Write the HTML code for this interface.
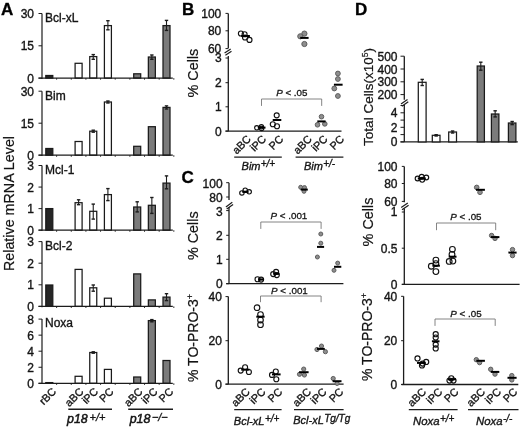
<!DOCTYPE html>
<html><head><meta charset="utf-8"><style>
html,body{margin:0;padding:0;background:#fff;width:520px;height:430px;overflow:hidden}
svg{display:block;font-family:"Liberation Sans",sans-serif;will-change:transform}
text{stroke:#141414;stroke-width:0.35px;paint-order:stroke}
</style></head><body>
<svg width="520" height="430" viewBox="0 0 520 430">
<rect width="520" height="430" fill="#fff"/>
<text x="1.00" y="15.40" font-size="17" font-weight="bold" fill="#000">A</text>
<text x="182.00" y="15.40" font-size="17" font-weight="bold" fill="#000">B</text>
<text x="181.50" y="183.40" font-size="17" font-weight="bold" fill="#000">C</text>
<text x="355.00" y="15.40" font-size="17" font-weight="bold" fill="#000">D</text>
<rect x="45.80" y="75.50" width="7.00" height="2.60" fill="#262626" stroke="#1a1a1a" stroke-width="1.25"/>
<rect x="75.10" y="63.30" width="7.00" height="14.80" fill="#ffffff" stroke="#1a1a1a" stroke-width="1.25"/>
<rect x="89.75" y="56.60" width="7.00" height="21.50" fill="#ffffff" stroke="#1a1a1a" stroke-width="1.25"/>
<line x1="93.25" y1="54.60" x2="93.25" y2="59.30" stroke="#1c1c1c" stroke-width="1.1"/>
<line x1="91.55" y1="54.60" x2="94.95" y2="54.60" stroke="#1c1c1c" stroke-width="1.4"/>
<line x1="91.55" y1="59.30" x2="94.95" y2="59.30" stroke="#1c1c1c" stroke-width="1.4"/>
<rect x="104.40" y="25.60" width="7.00" height="52.50" fill="#ffffff" stroke="#1a1a1a" stroke-width="1.25"/>
<line x1="107.90" y1="20.70" x2="107.90" y2="29.80" stroke="#1c1c1c" stroke-width="1.1"/>
<line x1="106.20" y1="20.70" x2="109.60" y2="20.70" stroke="#1c1c1c" stroke-width="1.4"/>
<line x1="106.20" y1="29.80" x2="109.60" y2="29.80" stroke="#1c1c1c" stroke-width="1.4"/>
<rect x="133.70" y="73.80" width="7.00" height="4.30" fill="#7b7b7b" stroke="#1a1a1a" stroke-width="1.25"/>
<rect x="148.35" y="57.00" width="7.00" height="21.10" fill="#7b7b7b" stroke="#1a1a1a" stroke-width="1.25"/>
<line x1="151.85" y1="55.00" x2="151.85" y2="59.30" stroke="#1c1c1c" stroke-width="1.1"/>
<line x1="150.15" y1="55.00" x2="153.55" y2="55.00" stroke="#1c1c1c" stroke-width="1.4"/>
<line x1="150.15" y1="59.30" x2="153.55" y2="59.30" stroke="#1c1c1c" stroke-width="1.4"/>
<rect x="163.00" y="25.60" width="7.00" height="52.50" fill="#7b7b7b" stroke="#1a1a1a" stroke-width="1.25"/>
<line x1="166.50" y1="20.40" x2="166.50" y2="30.40" stroke="#1c1c1c" stroke-width="1.1"/>
<line x1="164.80" y1="20.40" x2="168.20" y2="20.40" stroke="#1c1c1c" stroke-width="1.4"/>
<line x1="164.80" y1="30.40" x2="168.20" y2="30.40" stroke="#1c1c1c" stroke-width="1.4"/>
<line x1="42.00" y1="13.50" x2="42.00" y2="78.90" stroke="#1c1c1c" stroke-width="1.2"/>
<line x1="38.50" y1="78.10" x2="42.00" y2="78.10" stroke="#1c1c1c" stroke-width="1.0"/>
<text x="34.00" y="82.70" font-size="12" text-anchor="end" fill="#141414">0</text>
<line x1="38.50" y1="45.80" x2="42.00" y2="45.80" stroke="#1c1c1c" stroke-width="1.0"/>
<text x="34.00" y="50.40" font-size="12" text-anchor="end" fill="#141414">15</text>
<line x1="38.50" y1="13.50" x2="42.00" y2="13.50" stroke="#1c1c1c" stroke-width="1.0"/>
<text x="34.00" y="18.10" font-size="12" text-anchor="end" fill="#141414">30</text>
<line x1="38.50" y1="78.10" x2="172.80" y2="78.10" stroke="#1c1c1c" stroke-width="1.2"/>
<line x1="56.62" y1="78.10" x2="56.62" y2="79.70" stroke="#1c1c1c" stroke-width="0.9"/>
<line x1="71.28" y1="78.10" x2="71.28" y2="79.70" stroke="#1c1c1c" stroke-width="0.9"/>
<line x1="85.92" y1="78.10" x2="85.92" y2="79.70" stroke="#1c1c1c" stroke-width="0.9"/>
<line x1="100.57" y1="78.10" x2="100.57" y2="79.70" stroke="#1c1c1c" stroke-width="0.9"/>
<line x1="115.22" y1="78.10" x2="115.22" y2="79.70" stroke="#1c1c1c" stroke-width="0.9"/>
<line x1="129.88" y1="78.10" x2="129.88" y2="79.70" stroke="#1c1c1c" stroke-width="0.9"/>
<line x1="144.53" y1="78.10" x2="144.53" y2="79.70" stroke="#1c1c1c" stroke-width="0.9"/>
<line x1="159.18" y1="78.10" x2="159.18" y2="79.70" stroke="#1c1c1c" stroke-width="0.9"/>
<line x1="173.82" y1="78.10" x2="173.82" y2="79.70" stroke="#1c1c1c" stroke-width="0.9"/>
<text x="45.00" y="21.80" font-size="12" fill="#141414">Bcl-xL</text>
<rect x="45.80" y="148.50" width="7.00" height="6.70" fill="#262626" stroke="#1a1a1a" stroke-width="1.25"/>
<rect x="75.10" y="141.50" width="7.00" height="13.70" fill="#ffffff" stroke="#1a1a1a" stroke-width="1.25"/>
<rect x="89.75" y="131.20" width="7.00" height="24.00" fill="#ffffff" stroke="#1a1a1a" stroke-width="1.25"/>
<line x1="93.25" y1="130.20" x2="93.25" y2="132.20" stroke="#1c1c1c" stroke-width="1.1"/>
<line x1="91.55" y1="130.20" x2="94.95" y2="130.20" stroke="#1c1c1c" stroke-width="1.4"/>
<line x1="91.55" y1="132.20" x2="94.95" y2="132.20" stroke="#1c1c1c" stroke-width="1.4"/>
<rect x="104.40" y="102.00" width="7.00" height="53.20" fill="#ffffff" stroke="#1a1a1a" stroke-width="1.25"/>
<line x1="107.90" y1="101.00" x2="107.90" y2="103.00" stroke="#1c1c1c" stroke-width="1.1"/>
<line x1="106.20" y1="101.00" x2="109.60" y2="101.00" stroke="#1c1c1c" stroke-width="1.4"/>
<line x1="106.20" y1="103.00" x2="109.60" y2="103.00" stroke="#1c1c1c" stroke-width="1.4"/>
<rect x="133.70" y="146.30" width="7.00" height="8.90" fill="#7b7b7b" stroke="#1a1a1a" stroke-width="1.25"/>
<rect x="148.35" y="126.70" width="7.00" height="28.50" fill="#7b7b7b" stroke="#1a1a1a" stroke-width="1.25"/>
<rect x="163.00" y="107.40" width="7.00" height="47.80" fill="#7b7b7b" stroke="#1a1a1a" stroke-width="1.25"/>
<line x1="166.50" y1="105.90" x2="166.50" y2="109.00" stroke="#1c1c1c" stroke-width="1.1"/>
<line x1="164.80" y1="105.90" x2="168.20" y2="105.90" stroke="#1c1c1c" stroke-width="1.4"/>
<line x1="164.80" y1="109.00" x2="168.20" y2="109.00" stroke="#1c1c1c" stroke-width="1.4"/>
<line x1="42.00" y1="91.20" x2="42.00" y2="156.00" stroke="#1c1c1c" stroke-width="1.2"/>
<line x1="38.50" y1="155.20" x2="42.00" y2="155.20" stroke="#1c1c1c" stroke-width="1.0"/>
<text x="34.00" y="159.80" font-size="12" text-anchor="end" fill="#141414">0</text>
<line x1="38.50" y1="123.20" x2="42.00" y2="123.20" stroke="#1c1c1c" stroke-width="1.0"/>
<text x="34.00" y="127.80" font-size="12" text-anchor="end" fill="#141414">15</text>
<line x1="38.50" y1="91.20" x2="42.00" y2="91.20" stroke="#1c1c1c" stroke-width="1.0"/>
<text x="34.00" y="95.80" font-size="12" text-anchor="end" fill="#141414">30</text>
<line x1="38.50" y1="155.20" x2="172.80" y2="155.20" stroke="#1c1c1c" stroke-width="1.2"/>
<line x1="56.62" y1="155.20" x2="56.62" y2="156.80" stroke="#1c1c1c" stroke-width="0.9"/>
<line x1="71.28" y1="155.20" x2="71.28" y2="156.80" stroke="#1c1c1c" stroke-width="0.9"/>
<line x1="85.92" y1="155.20" x2="85.92" y2="156.80" stroke="#1c1c1c" stroke-width="0.9"/>
<line x1="100.57" y1="155.20" x2="100.57" y2="156.80" stroke="#1c1c1c" stroke-width="0.9"/>
<line x1="115.22" y1="155.20" x2="115.22" y2="156.80" stroke="#1c1c1c" stroke-width="0.9"/>
<line x1="129.88" y1="155.20" x2="129.88" y2="156.80" stroke="#1c1c1c" stroke-width="0.9"/>
<line x1="144.53" y1="155.20" x2="144.53" y2="156.80" stroke="#1c1c1c" stroke-width="0.9"/>
<line x1="159.18" y1="155.20" x2="159.18" y2="156.80" stroke="#1c1c1c" stroke-width="0.9"/>
<line x1="173.82" y1="155.20" x2="173.82" y2="156.80" stroke="#1c1c1c" stroke-width="0.9"/>
<text x="45.00" y="99.50" font-size="12" fill="#141414">Bim</text>
<rect x="45.80" y="208.60" width="7.00" height="21.60" fill="#262626" stroke="#1a1a1a" stroke-width="1.25"/>
<rect x="75.10" y="202.70" width="7.00" height="27.50" fill="#ffffff" stroke="#1a1a1a" stroke-width="1.25"/>
<line x1="78.60" y1="199.80" x2="78.60" y2="204.70" stroke="#1c1c1c" stroke-width="1.1"/>
<line x1="76.90" y1="199.80" x2="80.30" y2="199.80" stroke="#1c1c1c" stroke-width="1.4"/>
<line x1="76.90" y1="204.70" x2="80.30" y2="204.70" stroke="#1c1c1c" stroke-width="1.4"/>
<rect x="89.75" y="211.30" width="7.00" height="18.90" fill="#ffffff" stroke="#1a1a1a" stroke-width="1.25"/>
<line x1="93.25" y1="204.10" x2="93.25" y2="219.10" stroke="#1c1c1c" stroke-width="1.1"/>
<line x1="91.55" y1="204.10" x2="94.95" y2="204.10" stroke="#1c1c1c" stroke-width="1.4"/>
<line x1="91.55" y1="219.10" x2="94.95" y2="219.10" stroke="#1c1c1c" stroke-width="1.4"/>
<rect x="104.40" y="194.60" width="7.00" height="35.60" fill="#ffffff" stroke="#1a1a1a" stroke-width="1.25"/>
<line x1="107.90" y1="188.60" x2="107.90" y2="200.60" stroke="#1c1c1c" stroke-width="1.1"/>
<line x1="106.20" y1="188.60" x2="109.60" y2="188.60" stroke="#1c1c1c" stroke-width="1.4"/>
<line x1="106.20" y1="200.60" x2="109.60" y2="200.60" stroke="#1c1c1c" stroke-width="1.4"/>
<rect x="133.70" y="207.00" width="7.00" height="23.20" fill="#7b7b7b" stroke="#1a1a1a" stroke-width="1.25"/>
<line x1="137.20" y1="201.80" x2="137.20" y2="211.90" stroke="#1c1c1c" stroke-width="1.1"/>
<line x1="135.50" y1="201.80" x2="138.90" y2="201.80" stroke="#1c1c1c" stroke-width="1.4"/>
<line x1="135.50" y1="211.90" x2="138.90" y2="211.90" stroke="#1c1c1c" stroke-width="1.4"/>
<rect x="148.35" y="205.30" width="7.00" height="24.90" fill="#7b7b7b" stroke="#1a1a1a" stroke-width="1.25"/>
<line x1="151.85" y1="197.50" x2="151.85" y2="213.40" stroke="#1c1c1c" stroke-width="1.1"/>
<line x1="150.15" y1="197.50" x2="153.55" y2="197.50" stroke="#1c1c1c" stroke-width="1.4"/>
<line x1="150.15" y1="213.40" x2="153.55" y2="213.40" stroke="#1c1c1c" stroke-width="1.4"/>
<rect x="163.00" y="183.10" width="7.00" height="47.10" fill="#7b7b7b" stroke="#1a1a1a" stroke-width="1.25"/>
<line x1="166.50" y1="175.90" x2="166.50" y2="188.80" stroke="#1c1c1c" stroke-width="1.1"/>
<line x1="164.80" y1="175.90" x2="168.20" y2="175.90" stroke="#1c1c1c" stroke-width="1.4"/>
<line x1="164.80" y1="188.80" x2="168.20" y2="188.80" stroke="#1c1c1c" stroke-width="1.4"/>
<line x1="42.00" y1="165.50" x2="42.00" y2="231.00" stroke="#1c1c1c" stroke-width="1.2"/>
<line x1="38.50" y1="230.20" x2="42.00" y2="230.20" stroke="#1c1c1c" stroke-width="1.0"/>
<text x="34.00" y="234.80" font-size="12" text-anchor="end" fill="#141414">0</text>
<line x1="38.50" y1="208.63" x2="42.00" y2="208.63" stroke="#1c1c1c" stroke-width="1.0"/>
<text x="34.00" y="213.23" font-size="12" text-anchor="end" fill="#141414">1</text>
<line x1="38.50" y1="187.07" x2="42.00" y2="187.07" stroke="#1c1c1c" stroke-width="1.0"/>
<text x="34.00" y="191.67" font-size="12" text-anchor="end" fill="#141414">2</text>
<line x1="38.50" y1="165.50" x2="42.00" y2="165.50" stroke="#1c1c1c" stroke-width="1.0"/>
<text x="34.00" y="170.10" font-size="12" text-anchor="end" fill="#141414">3</text>
<line x1="38.50" y1="230.20" x2="172.80" y2="230.20" stroke="#1c1c1c" stroke-width="1.2"/>
<line x1="56.62" y1="230.20" x2="56.62" y2="231.80" stroke="#1c1c1c" stroke-width="0.9"/>
<line x1="71.28" y1="230.20" x2="71.28" y2="231.80" stroke="#1c1c1c" stroke-width="0.9"/>
<line x1="85.92" y1="230.20" x2="85.92" y2="231.80" stroke="#1c1c1c" stroke-width="0.9"/>
<line x1="100.57" y1="230.20" x2="100.57" y2="231.80" stroke="#1c1c1c" stroke-width="0.9"/>
<line x1="115.22" y1="230.20" x2="115.22" y2="231.80" stroke="#1c1c1c" stroke-width="0.9"/>
<line x1="129.88" y1="230.20" x2="129.88" y2="231.80" stroke="#1c1c1c" stroke-width="0.9"/>
<line x1="144.53" y1="230.20" x2="144.53" y2="231.80" stroke="#1c1c1c" stroke-width="0.9"/>
<line x1="159.18" y1="230.20" x2="159.18" y2="231.80" stroke="#1c1c1c" stroke-width="0.9"/>
<line x1="173.82" y1="230.20" x2="173.82" y2="231.80" stroke="#1c1c1c" stroke-width="0.9"/>
<text x="45.00" y="173.80" font-size="12" fill="#141414">Mcl-1</text>
<rect x="45.80" y="285.00" width="7.00" height="21.40" fill="#262626" stroke="#1a1a1a" stroke-width="1.25"/>
<rect x="75.10" y="269.40" width="7.00" height="37.00" fill="#ffffff" stroke="#1a1a1a" stroke-width="1.25"/>
<rect x="89.75" y="287.80" width="7.00" height="18.60" fill="#ffffff" stroke="#1a1a1a" stroke-width="1.25"/>
<line x1="93.25" y1="285.00" x2="93.25" y2="291.20" stroke="#1c1c1c" stroke-width="1.1"/>
<line x1="91.55" y1="285.00" x2="94.95" y2="285.00" stroke="#1c1c1c" stroke-width="1.4"/>
<line x1="91.55" y1="291.20" x2="94.95" y2="291.20" stroke="#1c1c1c" stroke-width="1.4"/>
<rect x="104.40" y="298.20" width="7.00" height="8.20" fill="#ffffff" stroke="#1a1a1a" stroke-width="1.25"/>
<rect x="133.70" y="273.90" width="7.00" height="32.50" fill="#7b7b7b" stroke="#1a1a1a" stroke-width="1.25"/>
<rect x="148.35" y="299.90" width="7.00" height="6.50" fill="#7b7b7b" stroke="#1a1a1a" stroke-width="1.25"/>
<rect x="163.00" y="297.10" width="7.00" height="9.30" fill="#7b7b7b" stroke="#1a1a1a" stroke-width="1.25"/>
<line x1="166.50" y1="293.70" x2="166.50" y2="300.60" stroke="#1c1c1c" stroke-width="1.1"/>
<line x1="164.80" y1="293.70" x2="168.20" y2="293.70" stroke="#1c1c1c" stroke-width="1.4"/>
<line x1="164.80" y1="300.60" x2="168.20" y2="300.60" stroke="#1c1c1c" stroke-width="1.4"/>
<line x1="42.00" y1="241.60" x2="42.00" y2="307.20" stroke="#1c1c1c" stroke-width="1.2"/>
<line x1="38.50" y1="306.40" x2="42.00" y2="306.40" stroke="#1c1c1c" stroke-width="1.0"/>
<text x="34.00" y="311.00" font-size="12" text-anchor="end" fill="#141414">0</text>
<line x1="38.50" y1="284.80" x2="42.00" y2="284.80" stroke="#1c1c1c" stroke-width="1.0"/>
<text x="34.00" y="289.40" font-size="12" text-anchor="end" fill="#141414">1</text>
<line x1="38.50" y1="263.20" x2="42.00" y2="263.20" stroke="#1c1c1c" stroke-width="1.0"/>
<text x="34.00" y="267.80" font-size="12" text-anchor="end" fill="#141414">2</text>
<line x1="38.50" y1="241.60" x2="42.00" y2="241.60" stroke="#1c1c1c" stroke-width="1.0"/>
<text x="34.00" y="246.20" font-size="12" text-anchor="end" fill="#141414">3</text>
<line x1="38.50" y1="306.40" x2="172.80" y2="306.40" stroke="#1c1c1c" stroke-width="1.2"/>
<line x1="56.62" y1="306.40" x2="56.62" y2="308.00" stroke="#1c1c1c" stroke-width="0.9"/>
<line x1="71.28" y1="306.40" x2="71.28" y2="308.00" stroke="#1c1c1c" stroke-width="0.9"/>
<line x1="85.92" y1="306.40" x2="85.92" y2="308.00" stroke="#1c1c1c" stroke-width="0.9"/>
<line x1="100.57" y1="306.40" x2="100.57" y2="308.00" stroke="#1c1c1c" stroke-width="0.9"/>
<line x1="115.22" y1="306.40" x2="115.22" y2="308.00" stroke="#1c1c1c" stroke-width="0.9"/>
<line x1="129.88" y1="306.40" x2="129.88" y2="308.00" stroke="#1c1c1c" stroke-width="0.9"/>
<line x1="144.53" y1="306.40" x2="144.53" y2="308.00" stroke="#1c1c1c" stroke-width="0.9"/>
<line x1="159.18" y1="306.40" x2="159.18" y2="308.00" stroke="#1c1c1c" stroke-width="0.9"/>
<line x1="173.82" y1="306.40" x2="173.82" y2="308.00" stroke="#1c1c1c" stroke-width="0.9"/>
<text x="45.00" y="249.90" font-size="12" fill="#141414">Bcl-2</text>
<rect x="45.80" y="382.60" width="7.00" height="0.70" fill="#262626" stroke="#1a1a1a" stroke-width="1.25"/>
<rect x="75.10" y="376.30" width="7.00" height="7.00" fill="#ffffff" stroke="#1a1a1a" stroke-width="1.25"/>
<rect x="89.75" y="352.50" width="7.00" height="30.80" fill="#ffffff" stroke="#1a1a1a" stroke-width="1.25"/>
<line x1="93.25" y1="351.80" x2="93.25" y2="353.20" stroke="#1c1c1c" stroke-width="1.1"/>
<line x1="91.55" y1="351.80" x2="94.95" y2="351.80" stroke="#1c1c1c" stroke-width="1.4"/>
<line x1="91.55" y1="353.20" x2="94.95" y2="353.20" stroke="#1c1c1c" stroke-width="1.4"/>
<rect x="104.40" y="369.40" width="7.00" height="13.90" fill="#ffffff" stroke="#1a1a1a" stroke-width="1.25"/>
<rect x="133.70" y="377.00" width="7.00" height="6.30" fill="#7b7b7b" stroke="#1a1a1a" stroke-width="1.25"/>
<rect x="148.35" y="320.60" width="7.00" height="62.70" fill="#7b7b7b" stroke="#1a1a1a" stroke-width="1.25"/>
<line x1="151.85" y1="319.60" x2="151.85" y2="321.80" stroke="#1c1c1c" stroke-width="1.1"/>
<line x1="150.15" y1="319.60" x2="153.55" y2="319.60" stroke="#1c1c1c" stroke-width="1.4"/>
<line x1="150.15" y1="321.80" x2="153.55" y2="321.80" stroke="#1c1c1c" stroke-width="1.4"/>
<rect x="163.00" y="360.50" width="7.00" height="22.80" fill="#7b7b7b" stroke="#1a1a1a" stroke-width="1.25"/>
<line x1="42.00" y1="319.10" x2="42.00" y2="384.10" stroke="#1c1c1c" stroke-width="1.2"/>
<line x1="38.50" y1="383.30" x2="42.00" y2="383.30" stroke="#1c1c1c" stroke-width="1.0"/>
<text x="34.00" y="387.90" font-size="12" text-anchor="end" fill="#141414">0</text>
<line x1="38.50" y1="367.25" x2="42.00" y2="367.25" stroke="#1c1c1c" stroke-width="1.0"/>
<text x="34.00" y="371.85" font-size="12" text-anchor="end" fill="#141414">2</text>
<line x1="38.50" y1="351.20" x2="42.00" y2="351.20" stroke="#1c1c1c" stroke-width="1.0"/>
<text x="34.00" y="355.80" font-size="12" text-anchor="end" fill="#141414">4</text>
<line x1="38.50" y1="335.15" x2="42.00" y2="335.15" stroke="#1c1c1c" stroke-width="1.0"/>
<text x="34.00" y="339.75" font-size="12" text-anchor="end" fill="#141414">6</text>
<line x1="38.50" y1="319.10" x2="42.00" y2="319.10" stroke="#1c1c1c" stroke-width="1.0"/>
<text x="34.00" y="323.70" font-size="12" text-anchor="end" fill="#141414">8</text>
<line x1="38.50" y1="383.30" x2="172.80" y2="383.30" stroke="#1c1c1c" stroke-width="1.2"/>
<line x1="56.62" y1="383.30" x2="56.62" y2="384.90" stroke="#1c1c1c" stroke-width="0.9"/>
<line x1="71.28" y1="383.30" x2="71.28" y2="384.90" stroke="#1c1c1c" stroke-width="0.9"/>
<line x1="85.92" y1="383.30" x2="85.92" y2="384.90" stroke="#1c1c1c" stroke-width="0.9"/>
<line x1="100.57" y1="383.30" x2="100.57" y2="384.90" stroke="#1c1c1c" stroke-width="0.9"/>
<line x1="115.22" y1="383.30" x2="115.22" y2="384.90" stroke="#1c1c1c" stroke-width="0.9"/>
<line x1="129.88" y1="383.30" x2="129.88" y2="384.90" stroke="#1c1c1c" stroke-width="0.9"/>
<line x1="144.53" y1="383.30" x2="144.53" y2="384.90" stroke="#1c1c1c" stroke-width="0.9"/>
<line x1="159.18" y1="383.30" x2="159.18" y2="384.90" stroke="#1c1c1c" stroke-width="0.9"/>
<line x1="173.82" y1="383.30" x2="173.82" y2="384.90" stroke="#1c1c1c" stroke-width="0.9"/>
<text x="45.00" y="327.40" font-size="12" fill="#141414">Noxa</text>
<text x="13.60" y="203.50" font-size="14.3" text-anchor="middle" transform="rotate(-90 13.60 203.50)" fill="#141414" style="stroke-width:0.2px">Relative mRNA Level</text>
<text x="56.80" y="392.30" font-size="10.8" text-anchor="end" transform="rotate(-45 56.80 392.30)" fill="#141414">rBC</text>
<text x="84.20" y="392.30" font-size="10.8" text-anchor="end" transform="rotate(-45 84.20 392.30)" fill="#141414">aBC</text>
<text x="98.70" y="392.30" font-size="10.8" text-anchor="end" transform="rotate(-45 98.70 392.30)" fill="#141414">iPC</text>
<text x="114.30" y="392.30" font-size="10.8" text-anchor="end" transform="rotate(-45 114.30 392.30)" fill="#141414">PC</text>
<text x="143.30" y="392.30" font-size="10.8" text-anchor="end" transform="rotate(-45 143.30 392.30)" fill="#141414">aBC</text>
<text x="158.30" y="392.30" font-size="10.8" text-anchor="end" transform="rotate(-45 158.30 392.30)" fill="#141414">iPC</text>
<text x="173.90" y="392.30" font-size="10.8" text-anchor="end" transform="rotate(-45 173.90 392.30)" fill="#141414">PC</text>
<line x1="68.30" y1="409.20" x2="112.00" y2="409.20" stroke="#1c1c1c" stroke-width="1.4"/>
<line x1="128.20" y1="409.20" x2="173.00" y2="409.20" stroke="#1c1c1c" stroke-width="1.4"/>
<text x="67.00" y="422.80" font-size="12.4" font-style="italic" style="stroke-width:0.5px" fill="#141414">p18<tspan font-size="11" font-weight="normal" style="stroke-width:0.35px" dx="1.8" dy="-1.7">+/+</tspan></text>
<text x="129.70" y="422.80" font-size="12.4" font-style="italic" style="stroke-width:0.5px" fill="#141414">p18<tspan font-size="11" font-weight="normal" style="stroke-width:0.35px" dx="1.5" dy="-1.7">−/−</tspan></text>
<line x1="228.30" y1="13.40" x2="228.30" y2="48.20" stroke="#1c1c1c" stroke-width="1.3"/>
<line x1="225.50" y1="13.40" x2="228.30" y2="13.40" stroke="#1c1c1c" stroke-width="1.0"/>
<text x="221.30" y="17.70" font-size="12" text-anchor="end" fill="#141414">100</text>
<line x1="225.50" y1="30.80" x2="228.30" y2="30.80" stroke="#1c1c1c" stroke-width="1.0"/>
<text x="221.30" y="35.10" font-size="12" text-anchor="end" fill="#141414">80</text>
<line x1="225.50" y1="48.60" x2="228.30" y2="48.60" stroke="#1c1c1c" stroke-width="1.0"/>
<text x="221.30" y="53.20" font-size="12" text-anchor="end" fill="#141414">60</text>
<line x1="224.60" y1="53.00" x2="230.70" y2="49.10" stroke="#1c1c1c" stroke-width="1.2"/>
<line x1="225.40" y1="55.20" x2="231.50" y2="51.30" stroke="#1c1c1c" stroke-width="1.2"/>
<line x1="228.30" y1="56.00" x2="228.30" y2="131.20" stroke="#1c1c1c" stroke-width="1.3"/>
<line x1="225.50" y1="58.00" x2="228.30" y2="58.00" stroke="#1c1c1c" stroke-width="1.0"/>
<text x="221.80" y="62.40" font-size="12" text-anchor="end" fill="#141414">3</text>
<line x1="225.50" y1="82.70" x2="228.30" y2="82.70" stroke="#1c1c1c" stroke-width="1.0"/>
<text x="221.80" y="87.20" font-size="12" text-anchor="end" fill="#141414">2</text>
<line x1="225.50" y1="106.80" x2="228.30" y2="106.80" stroke="#1c1c1c" stroke-width="1.0"/>
<text x="221.80" y="111.30" font-size="12" text-anchor="end" fill="#141414">1</text>
<line x1="225.50" y1="131.10" x2="228.30" y2="131.10" stroke="#1c1c1c" stroke-width="1.0"/>
<text x="221.80" y="135.70" font-size="12" text-anchor="end" fill="#141414">0</text>
<line x1="225.50" y1="131.20" x2="341.50" y2="131.20" stroke="#1c1c1c" stroke-width="1.3"/>
<circle cx="240.90" cy="33.50" r="2.5" fill="none" stroke="#111" stroke-width="1.15"/>
<circle cx="244.60" cy="34.20" r="2.5" fill="none" stroke="#111" stroke-width="1.15"/>
<circle cx="245.00" cy="37.50" r="2.5" fill="none" stroke="#111" stroke-width="1.15"/>
<circle cx="249.50" cy="39.90" r="2.5" fill="none" stroke="#111" stroke-width="1.15"/>
<line x1="241.20" y1="36.00" x2="249.90" y2="36.00" stroke="#000" stroke-width="2.0"/>
<circle cx="304.40" cy="33.60" r="2.6" fill="#8e8e8e" stroke="#5e5e5e" stroke-width="1.0"/>
<circle cx="300.30" cy="36.30" r="2.6" fill="#8e8e8e" stroke="#5e5e5e" stroke-width="1.0"/>
<circle cx="304.40" cy="44.00" r="2.6" fill="#8e8e8e" stroke="#5e5e5e" stroke-width="1.0"/>
<line x1="300.20" y1="37.90" x2="308.60" y2="37.90" stroke="#000" stroke-width="2.0"/>
<circle cx="256.80" cy="127.80" r="2.2" fill="none" stroke="#111" stroke-width="1.15"/>
<circle cx="261.40" cy="126.80" r="2.2" fill="none" stroke="#111" stroke-width="1.15"/>
<circle cx="261.60" cy="128.40" r="2.2" fill="none" stroke="#111" stroke-width="1.15"/>
<line x1="257.80" y1="127.60" x2="265.50" y2="127.60" stroke="#000" stroke-width="2.0"/>
<circle cx="276.70" cy="115.30" r="2.5" fill="none" stroke="#111" stroke-width="1.15"/>
<circle cx="272.80" cy="124.20" r="2.5" fill="none" stroke="#111" stroke-width="1.15"/>
<circle cx="277.00" cy="126.20" r="2.5" fill="none" stroke="#111" stroke-width="1.15"/>
<line x1="272.70" y1="120.00" x2="281.30" y2="120.00" stroke="#000" stroke-width="2.0"/>
<circle cx="321.50" cy="116.70" r="2.3" fill="#8e8e8e" stroke="#5e5e5e" stroke-width="1.0"/>
<circle cx="317.50" cy="124.80" r="2.3" fill="#8e8e8e" stroke="#5e5e5e" stroke-width="1.0"/>
<circle cx="324.80" cy="123.90" r="2.3" fill="#8e8e8e" stroke="#5e5e5e" stroke-width="1.0"/>
<line x1="317.30" y1="121.40" x2="325.60" y2="121.40" stroke="#000" stroke-width="2.0"/>
<circle cx="337.90" cy="73.50" r="2.4" fill="#8e8e8e" stroke="#5e5e5e" stroke-width="1.0"/>
<circle cx="337.90" cy="79.00" r="2.4" fill="#8e8e8e" stroke="#5e5e5e" stroke-width="1.0"/>
<circle cx="334.30" cy="88.50" r="2.4" fill="#8e8e8e" stroke="#5e5e5e" stroke-width="1.0"/>
<circle cx="337.90" cy="96.00" r="2.4" fill="#8e8e8e" stroke="#5e5e5e" stroke-width="1.0"/>
<line x1="333.90" y1="84.70" x2="342.60" y2="84.70" stroke="#000" stroke-width="2.0"/>
<line x1="261.50" y1="99.00" x2="321.70" y2="99.00" stroke="#777" stroke-width="0.9"/>
<line x1="261.50" y1="99.00" x2="261.50" y2="105.90" stroke="#777" stroke-width="0.9"/>
<line x1="321.70" y1="99.00" x2="321.70" y2="105.90" stroke="#777" stroke-width="0.9"/>
<text x="291.80" y="95.80" font-size="9.8" text-anchor="middle" fill="#141414" style="stroke-width:0.3px"><tspan font-style="italic">P</tspan> &lt; .05</text>
<text x="198.30" y="73.10" font-size="14.4" text-anchor="middle" transform="rotate(-90 198.30 73.10)" fill="#141414" style="stroke-width:0.2px">% Cells</text>
<text x="251.60" y="139.80" font-size="10.8" text-anchor="end" transform="rotate(-45 251.60 139.80)" fill="#141414">aBC</text>
<text x="266.80" y="139.80" font-size="10.8" text-anchor="end" transform="rotate(-45 266.80 139.80)" fill="#141414">iPC</text>
<text x="283.90" y="139.80" font-size="10.8" text-anchor="end" transform="rotate(-45 283.90 139.80)" fill="#141414">PC</text>
<text x="312.60" y="139.80" font-size="10.8" text-anchor="end" transform="rotate(-45 312.60 139.80)" fill="#141414">aBC</text>
<text x="328.30" y="139.80" font-size="10.8" text-anchor="end" transform="rotate(-45 328.30 139.80)" fill="#141414">iPC</text>
<text x="344.80" y="139.80" font-size="10.8" text-anchor="end" transform="rotate(-45 344.80 139.80)" fill="#141414">PC</text>
<line x1="234.20" y1="157.10" x2="281.80" y2="157.10" stroke="#1c1c1c" stroke-width="1.4"/>
<line x1="295.60" y1="157.10" x2="343.40" y2="157.10" stroke="#1c1c1c" stroke-width="1.4"/>
<text x="241.60" y="169.80" font-size="11" font-style="italic" fill="#141414">Bim<tspan font-size="10" font-weight="normal" dx="0.2" dy="-2.4">+/+</tspan></text>
<text x="304.00" y="169.80" font-size="11" font-style="italic" fill="#141414">Bim<tspan font-size="10" font-weight="normal" dx="0.2" dy="-2.4">+/-</tspan></text>
<line x1="229.00" y1="182.70" x2="229.00" y2="200.00" stroke="#1c1c1c" stroke-width="1.3"/>
<line x1="226.20" y1="182.70" x2="229.00" y2="182.70" stroke="#1c1c1c" stroke-width="1.0"/>
<text x="222.60" y="187.80" font-size="12" text-anchor="end" fill="#141414">100</text>
<line x1="226.20" y1="197.00" x2="229.00" y2="197.00" stroke="#1c1c1c" stroke-width="1.0"/>
<text x="222.60" y="201.90" font-size="12" text-anchor="end" fill="#141414">80</text>
<line x1="225.90" y1="206.90" x2="232.30" y2="202.20" stroke="#1c1c1c" stroke-width="1.2"/>
<line x1="226.70" y1="209.10" x2="233.10" y2="204.40" stroke="#1c1c1c" stroke-width="1.2"/>
<line x1="229.00" y1="207.00" x2="229.00" y2="283.70" stroke="#1c1c1c" stroke-width="1.3"/>
<line x1="226.20" y1="210.60" x2="229.00" y2="210.60" stroke="#1c1c1c" stroke-width="1.0"/>
<text x="222.60" y="216.30" font-size="12" text-anchor="end" fill="#141414">3</text>
<line x1="226.20" y1="235.30" x2="229.00" y2="235.30" stroke="#1c1c1c" stroke-width="1.0"/>
<text x="222.60" y="239.80" font-size="12" text-anchor="end" fill="#141414">2</text>
<line x1="226.20" y1="259.30" x2="229.00" y2="259.30" stroke="#1c1c1c" stroke-width="1.0"/>
<text x="222.60" y="263.80" font-size="12" text-anchor="end" fill="#141414">1</text>
<line x1="226.20" y1="283.70" x2="229.00" y2="283.70" stroke="#1c1c1c" stroke-width="1.0"/>
<text x="222.60" y="288.40" font-size="12" text-anchor="end" fill="#141414">0</text>
<line x1="226.20" y1="283.70" x2="343.40" y2="283.70" stroke="#1c1c1c" stroke-width="1.3"/>
<circle cx="241.90" cy="192.90" r="2.2" fill="none" stroke="#111" stroke-width="1.15"/>
<circle cx="245.20" cy="190.20" r="2.2" fill="none" stroke="#111" stroke-width="1.15"/>
<circle cx="249.20" cy="191.80" r="2.2" fill="none" stroke="#111" stroke-width="1.15"/>
<line x1="242.30" y1="191.80" x2="248.60" y2="191.80" stroke="#000" stroke-width="2.2"/>
<circle cx="300.70" cy="187.30" r="2.0" fill="#8e8e8e" stroke="#5e5e5e" stroke-width="1.0"/>
<circle cx="304.00" cy="191.30" r="2.0" fill="#8e8e8e" stroke="#5e5e5e" stroke-width="1.0"/>
<circle cx="304.50" cy="187.60" r="2.0" fill="#8e8e8e" stroke="#5e5e5e" stroke-width="1.0"/>
<line x1="300.70" y1="189.60" x2="307.80" y2="189.60" stroke="#000" stroke-width="2.0"/>
<circle cx="257.50" cy="279.20" r="2.5" fill="none" stroke="#111" stroke-width="1.15"/>
<circle cx="261.10" cy="279.60" r="2.5" fill="none" stroke="#111" stroke-width="1.15"/>
<line x1="258.50" y1="279.50" x2="263.70" y2="279.50" stroke="#000" stroke-width="2.2"/>
<circle cx="273.20" cy="274.10" r="2.5" fill="none" stroke="#111" stroke-width="1.15"/>
<circle cx="276.10" cy="271.80" r="2.5" fill="none" stroke="#111" stroke-width="1.15"/>
<circle cx="276.80" cy="275.10" r="2.5" fill="none" stroke="#111" stroke-width="1.15"/>
<line x1="273.20" y1="273.80" x2="279.40" y2="273.80" stroke="#000" stroke-width="2.0"/>
<circle cx="320.80" cy="234.00" r="2.0" fill="#8e8e8e" stroke="#5e5e5e" stroke-width="1.0"/>
<circle cx="320.80" cy="243.20" r="2.0" fill="#8e8e8e" stroke="#5e5e5e" stroke-width="1.0"/>
<circle cx="317.40" cy="257.00" r="2.0" fill="#8e8e8e" stroke="#5e5e5e" stroke-width="1.0"/>
<line x1="317.00" y1="246.90" x2="324.10" y2="246.90" stroke="#000" stroke-width="2.0"/>
<circle cx="337.70" cy="263.10" r="2.0" fill="#8e8e8e" stroke="#5e5e5e" stroke-width="1.0"/>
<circle cx="334.00" cy="270.30" r="2.0" fill="#8e8e8e" stroke="#5e5e5e" stroke-width="1.0"/>
<line x1="334.00" y1="266.80" x2="341.30" y2="266.80" stroke="#000" stroke-width="2.0"/>
<line x1="260.80" y1="222.00" x2="321.10" y2="222.00" stroke="#777" stroke-width="0.9"/>
<line x1="260.80" y1="222.00" x2="260.80" y2="228.90" stroke="#777" stroke-width="0.9"/>
<line x1="321.10" y1="222.00" x2="321.10" y2="228.90" stroke="#777" stroke-width="0.9"/>
<text x="288.90" y="219.20" font-size="9.8" text-anchor="middle" fill="#141414" style="stroke-width:0.3px"><tspan font-style="italic">P</tspan> &lt; .001</text>
<text x="198.30" y="235.70" font-size="14.4" text-anchor="middle" transform="rotate(-90 198.30 235.70)" fill="#141414" style="stroke-width:0.2px">% Cells</text>
<line x1="228.30" y1="296.60" x2="228.30" y2="384.20" stroke="#1c1c1c" stroke-width="1.3"/>
<line x1="225.50" y1="296.60" x2="228.30" y2="296.60" stroke="#1c1c1c" stroke-width="1.0"/>
<text x="221.90" y="301.10" font-size="12" text-anchor="end" fill="#141414">40</text>
<line x1="225.50" y1="340.70" x2="228.30" y2="340.70" stroke="#1c1c1c" stroke-width="1.0"/>
<text x="221.90" y="345.20" font-size="12" text-anchor="end" fill="#141414">20</text>
<line x1="225.50" y1="384.20" x2="228.30" y2="384.20" stroke="#1c1c1c" stroke-width="1.0"/>
<text x="221.90" y="388.70" font-size="12" text-anchor="end" fill="#141414">0</text>
<line x1="225.50" y1="384.20" x2="343.60" y2="384.20" stroke="#1c1c1c" stroke-width="1.3"/>
<circle cx="240.70" cy="370.60" r="2.5" fill="none" stroke="#111" stroke-width="1.15"/>
<circle cx="245.10" cy="367.20" r="2.5" fill="none" stroke="#111" stroke-width="1.15"/>
<circle cx="248.90" cy="372.00" r="2.5" fill="none" stroke="#111" stroke-width="1.15"/>
<line x1="241.20" y1="369.60" x2="249.40" y2="369.60" stroke="#000" stroke-width="2.0"/>
<circle cx="257.00" cy="307.70" r="2.8" fill="none" stroke="#111" stroke-width="1.15"/>
<circle cx="260.50" cy="314.50" r="2.8" fill="none" stroke="#111" stroke-width="1.15"/>
<circle cx="260.50" cy="320.00" r="2.8" fill="none" stroke="#111" stroke-width="1.15"/>
<circle cx="260.50" cy="324.70" r="2.8" fill="none" stroke="#111" stroke-width="1.15"/>
<line x1="256.30" y1="316.70" x2="264.60" y2="316.70" stroke="#000" stroke-width="2.0"/>
<circle cx="275.80" cy="371.50" r="2.5" fill="none" stroke="#111" stroke-width="1.15"/>
<circle cx="272.00" cy="374.90" r="2.5" fill="none" stroke="#111" stroke-width="1.15"/>
<circle cx="276.30" cy="379.20" r="2.5" fill="none" stroke="#111" stroke-width="1.15"/>
<line x1="272.00" y1="374.40" x2="280.60" y2="374.40" stroke="#000" stroke-width="2.0"/>
<circle cx="303.70" cy="369.10" r="2.1" fill="#8e8e8e" stroke="#5e5e5e" stroke-width="1.0"/>
<circle cx="299.50" cy="374.30" r="2.1" fill="#8e8e8e" stroke="#5e5e5e" stroke-width="1.0"/>
<circle cx="304.40" cy="375.00" r="2.1" fill="#8e8e8e" stroke="#5e5e5e" stroke-width="1.0"/>
<line x1="299.10" y1="372.20" x2="308.60" y2="372.20" stroke="#000" stroke-width="2.0"/>
<circle cx="317.00" cy="349.50" r="2.1" fill="#8e8e8e" stroke="#5e5e5e" stroke-width="1.0"/>
<circle cx="321.50" cy="346.10" r="2.1" fill="#8e8e8e" stroke="#5e5e5e" stroke-width="1.0"/>
<circle cx="325.40" cy="351.70" r="2.1" fill="#8e8e8e" stroke="#5e5e5e" stroke-width="1.0"/>
<line x1="317.00" y1="348.90" x2="324.80" y2="348.90" stroke="#000" stroke-width="2.0"/>
<circle cx="333.20" cy="378.50" r="2.1" fill="#8e8e8e" stroke="#5e5e5e" stroke-width="1.0"/>
<circle cx="337.10" cy="383.40" r="2.1" fill="#8e8e8e" stroke="#5e5e5e" stroke-width="1.0"/>
<line x1="332.60" y1="381.20" x2="341.50" y2="381.20" stroke="#000" stroke-width="2.0"/>
<line x1="260.50" y1="296.00" x2="321.10" y2="296.00" stroke="#777" stroke-width="0.9"/>
<line x1="260.50" y1="296.00" x2="260.50" y2="302.20" stroke="#777" stroke-width="0.9"/>
<line x1="321.10" y1="296.00" x2="321.10" y2="302.20" stroke="#777" stroke-width="0.9"/>
<text x="289.40" y="293.50" font-size="9.8" text-anchor="middle" fill="#141414" style="stroke-width:0.3px"><tspan font-style="italic">P</tspan> &lt; .001</text>
<text x="198.0" y="338.0" font-size="14" text-anchor="middle" transform="rotate(-90 198.0 338.0)" fill="#141414" style="stroke-width:0.2px">% TO-PRO-3<tspan font-size="9" dy="-5">+</tspan></text>
<text x="250.60" y="392.50" font-size="10.8" text-anchor="end" transform="rotate(-45 250.60 392.50)" fill="#141414">aBC</text>
<text x="266.20" y="392.50" font-size="10.8" text-anchor="end" transform="rotate(-45 266.20 392.50)" fill="#141414">iPC</text>
<text x="282.90" y="392.50" font-size="10.8" text-anchor="end" transform="rotate(-45 282.90 392.50)" fill="#141414">PC</text>
<text x="311.80" y="392.50" font-size="10.8" text-anchor="end" transform="rotate(-45 311.80 392.50)" fill="#141414">aBC</text>
<text x="327.30" y="392.50" font-size="10.8" text-anchor="end" transform="rotate(-45 327.30 392.50)" fill="#141414">iPC</text>
<text x="344.00" y="392.50" font-size="10.8" text-anchor="end" transform="rotate(-45 344.00 392.50)" fill="#141414">PC</text>
<line x1="234.20" y1="409.60" x2="281.60" y2="409.60" stroke="#1c1c1c" stroke-width="1.4"/>
<line x1="294.00" y1="409.60" x2="343.60" y2="409.60" stroke="#1c1c1c" stroke-width="1.4"/>
<text x="233.80" y="424.60" font-size="11" font-style="italic" fill="#141414">Bcl-xL<tspan font-size="10" font-weight="normal" dx="0.6" dy="-2.9">+/+</tspan></text>
<text x="293.20" y="424.40" font-size="11" font-style="italic" fill="#141414">Bcl-xL<tspan font-size="10" font-weight="normal" dx="0.4" dy="-2.5">Tg/Tg</tspan></text>
<line x1="404.30" y1="56.20" x2="404.30" y2="99.70" stroke="#1c1c1c" stroke-width="1.3"/>
<line x1="400.50" y1="56.20" x2="404.30" y2="56.20" stroke="#1c1c1c" stroke-width="1.0"/>
<text x="397.50" y="60.70" font-size="12" text-anchor="end" fill="#141414">500</text>
<line x1="400.50" y1="69.00" x2="404.30" y2="69.00" stroke="#1c1c1c" stroke-width="1.0"/>
<text x="397.50" y="73.50" font-size="12" text-anchor="end" fill="#141414">400</text>
<line x1="400.50" y1="81.80" x2="404.30" y2="81.80" stroke="#1c1c1c" stroke-width="1.0"/>
<text x="397.50" y="86.30" font-size="12" text-anchor="end" fill="#141414">300</text>
<line x1="400.50" y1="94.60" x2="404.30" y2="94.60" stroke="#1c1c1c" stroke-width="1.0"/>
<text x="397.50" y="99.10" font-size="12" text-anchor="end" fill="#141414">200</text>
<line x1="401.00" y1="104.00" x2="407.50" y2="99.50" stroke="#1c1c1c" stroke-width="1.2"/>
<line x1="401.80" y1="106.20" x2="408.30" y2="101.70" stroke="#1c1c1c" stroke-width="1.2"/>
<line x1="404.30" y1="105.00" x2="404.30" y2="141.90" stroke="#1c1c1c" stroke-width="1.3"/>
<line x1="400.50" y1="112.80" x2="404.30" y2="112.80" stroke="#1c1c1c" stroke-width="1.0"/>
<text x="397.50" y="117.30" font-size="12" text-anchor="end" fill="#141414">4</text>
<line x1="400.50" y1="127.30" x2="404.30" y2="127.30" stroke="#1c1c1c" stroke-width="1.0"/>
<text x="397.50" y="131.80" font-size="12" text-anchor="end" fill="#141414">2</text>
<line x1="400.50" y1="141.90" x2="404.30" y2="141.90" stroke="#1c1c1c" stroke-width="1.0"/>
<text x="397.50" y="146.40" font-size="12" text-anchor="end" fill="#141414">0</text>
<line x1="400.50" y1="105.50" x2="404.30" y2="105.50" stroke="#1c1c1c" stroke-width="1.0"/>
<line x1="400.50" y1="120.10" x2="404.30" y2="120.10" stroke="#1c1c1c" stroke-width="1.0"/>
<line x1="400.50" y1="134.60" x2="404.30" y2="134.60" stroke="#1c1c1c" stroke-width="1.0"/>
<line x1="400.50" y1="141.90" x2="517.80" y2="141.90" stroke="#1c1c1c" stroke-width="1.3"/>
<rect x="418.30" y="82.30" width="7.80" height="59.60" fill="#fff" stroke="#1a1a1a" stroke-width="1.25"/>
<line x1="422.20" y1="79.40" x2="422.20" y2="85.50" stroke="#1c1c1c" stroke-width="1.1"/>
<line x1="420.50" y1="79.40" x2="423.90" y2="79.40" stroke="#1c1c1c" stroke-width="1.4"/>
<line x1="420.50" y1="85.50" x2="423.90" y2="85.50" stroke="#1c1c1c" stroke-width="1.4"/>
<rect x="432.30" y="135.30" width="7.70" height="6.60" fill="#fff" stroke="#1a1a1a" stroke-width="1.25"/>
<line x1="436.15" y1="134.70" x2="436.15" y2="136.00" stroke="#1c1c1c" stroke-width="1.1"/>
<line x1="434.45" y1="134.70" x2="437.85" y2="134.70" stroke="#1c1c1c" stroke-width="1.4"/>
<line x1="434.45" y1="136.00" x2="437.85" y2="136.00" stroke="#1c1c1c" stroke-width="1.4"/>
<rect x="448.70" y="132.00" width="7.80" height="9.90" fill="#fff" stroke="#1a1a1a" stroke-width="1.25"/>
<line x1="452.60" y1="131.00" x2="452.60" y2="133.00" stroke="#1c1c1c" stroke-width="1.1"/>
<line x1="450.90" y1="131.00" x2="454.30" y2="131.00" stroke="#1c1c1c" stroke-width="1.4"/>
<line x1="450.90" y1="133.00" x2="454.30" y2="133.00" stroke="#1c1c1c" stroke-width="1.4"/>
<rect x="477.20" y="66.00" width="7.20" height="75.90" fill="#7b7b7b" stroke="#1a1a1a" stroke-width="1.25"/>
<line x1="480.80" y1="62.20" x2="480.80" y2="70.20" stroke="#1c1c1c" stroke-width="1.1"/>
<line x1="479.10" y1="62.20" x2="482.50" y2="62.20" stroke="#1c1c1c" stroke-width="1.4"/>
<line x1="479.10" y1="70.20" x2="482.50" y2="70.20" stroke="#1c1c1c" stroke-width="1.4"/>
<rect x="491.40" y="114.00" width="7.50" height="27.90" fill="#7b7b7b" stroke="#1a1a1a" stroke-width="1.25"/>
<line x1="495.15" y1="110.80" x2="495.15" y2="116.90" stroke="#1c1c1c" stroke-width="1.1"/>
<line x1="493.45" y1="110.80" x2="496.85" y2="110.80" stroke="#1c1c1c" stroke-width="1.4"/>
<line x1="493.45" y1="116.90" x2="496.85" y2="116.90" stroke="#1c1c1c" stroke-width="1.4"/>
<rect x="508.40" y="123.00" width="7.50" height="18.90" fill="#7b7b7b" stroke="#1a1a1a" stroke-width="1.25"/>
<line x1="512.15" y1="121.50" x2="512.15" y2="124.60" stroke="#1c1c1c" stroke-width="1.1"/>
<line x1="510.45" y1="121.50" x2="513.85" y2="121.50" stroke="#1c1c1c" stroke-width="1.4"/>
<line x1="510.45" y1="124.60" x2="513.85" y2="124.60" stroke="#1c1c1c" stroke-width="1.4"/>
<text x="372.5" y="97.0" font-size="13.5" text-anchor="middle" transform="rotate(-90 372.5 97.0)" fill="#141414" style="stroke-width:0.2px">Total Cells(x10<tspan font-size="8.5" dy="-5">5</tspan><tspan dy="5">)</tspan></text>
<line x1="404.30" y1="166.40" x2="404.30" y2="202.30" stroke="#1c1c1c" stroke-width="1.3"/>
<line x1="401.80" y1="166.40" x2="404.30" y2="166.40" stroke="#1c1c1c" stroke-width="1.0"/>
<text x="397.50" y="170.90" font-size="12" text-anchor="end" fill="#141414">100</text>
<line x1="401.80" y1="183.50" x2="404.30" y2="183.50" stroke="#1c1c1c" stroke-width="1.0"/>
<text x="397.50" y="188.00" font-size="12" text-anchor="end" fill="#141414">80</text>
<line x1="401.80" y1="201.40" x2="404.30" y2="201.40" stroke="#1c1c1c" stroke-width="1.0"/>
<text x="397.50" y="205.80" font-size="12" text-anchor="end" fill="#141414">60</text>
<line x1="401.20" y1="207.50" x2="407.80" y2="203.00" stroke="#1c1c1c" stroke-width="1.2"/>
<line x1="402.00" y1="209.70" x2="408.60" y2="205.20" stroke="#1c1c1c" stroke-width="1.2"/>
<line x1="404.30" y1="208.50" x2="404.30" y2="284.40" stroke="#1c1c1c" stroke-width="1.3"/>
<line x1="401.80" y1="212.00" x2="404.30" y2="212.00" stroke="#1c1c1c" stroke-width="1.0"/>
<text x="397.50" y="216.40" font-size="12" text-anchor="end" fill="#141414">1</text>
<line x1="401.80" y1="248.20" x2="404.30" y2="248.20" stroke="#1c1c1c" stroke-width="1.0"/>
<text x="397.50" y="252.70" font-size="12" text-anchor="end" fill="#141414">0.5</text>
<line x1="401.80" y1="284.40" x2="404.30" y2="284.40" stroke="#1c1c1c" stroke-width="1.0"/>
<text x="397.50" y="289.10" font-size="12" text-anchor="end" fill="#141414">0</text>
<line x1="401.80" y1="284.40" x2="519.60" y2="284.40" stroke="#1c1c1c" stroke-width="1.3"/>
<circle cx="417.60" cy="178.50" r="2.4" fill="none" stroke="#111" stroke-width="1.15"/>
<circle cx="422.20" cy="179.80" r="2.4" fill="none" stroke="#111" stroke-width="1.15"/>
<circle cx="426.30" cy="177.50" r="2.4" fill="none" stroke="#111" stroke-width="1.15"/>
<circle cx="421.70" cy="176.70" r="2.4" fill="none" stroke="#111" stroke-width="1.15"/>
<line x1="417.80" y1="178.50" x2="425.80" y2="178.50" stroke="#000" stroke-width="2.2"/>
<circle cx="435.90" cy="260.10" r="2.85" fill="none" stroke="#111" stroke-width="1.15"/>
<circle cx="431.30" cy="266.20" r="2.85" fill="none" stroke="#111" stroke-width="1.15"/>
<circle cx="435.90" cy="271.60" r="2.85" fill="none" stroke="#111" stroke-width="1.15"/>
<circle cx="435.90" cy="263.60" r="2.85" fill="none" stroke="#111" stroke-width="1.15"/>
<line x1="432.40" y1="265.70" x2="439.90" y2="265.70" stroke="#000" stroke-width="2.0"/>
<circle cx="452.40" cy="249.30" r="2.85" fill="none" stroke="#111" stroke-width="1.15"/>
<circle cx="449.20" cy="261.40" r="2.85" fill="none" stroke="#111" stroke-width="1.15"/>
<circle cx="452.90" cy="261.10" r="2.85" fill="none" stroke="#111" stroke-width="1.15"/>
<circle cx="452.00" cy="254.40" r="2.85" fill="none" stroke="#111" stroke-width="1.15"/>
<line x1="448.70" y1="256.70" x2="456.50" y2="256.70" stroke="#000" stroke-width="2.0"/>
<circle cx="476.70" cy="187.40" r="2.3" fill="#8e8e8e" stroke="#5e5e5e" stroke-width="1.0"/>
<circle cx="480.00" cy="192.30" r="2.3" fill="#8e8e8e" stroke="#5e5e5e" stroke-width="1.0"/>
<line x1="476.00" y1="189.80" x2="484.90" y2="189.80" stroke="#000" stroke-width="2.0"/>
<circle cx="491.60" cy="235.50" r="2.2" fill="#8e8e8e" stroke="#5e5e5e" stroke-width="1.0"/>
<circle cx="495.00" cy="238.40" r="2.2" fill="#8e8e8e" stroke="#5e5e5e" stroke-width="1.0"/>
<line x1="490.90" y1="237.10" x2="499.40" y2="237.10" stroke="#000" stroke-width="2.0"/>
<circle cx="512.50" cy="249.60" r="2.2" fill="#8e8e8e" stroke="#5e5e5e" stroke-width="1.0"/>
<circle cx="512.50" cy="255.60" r="2.2" fill="#8e8e8e" stroke="#5e5e5e" stroke-width="1.0"/>
<line x1="508.40" y1="252.60" x2="516.60" y2="252.60" stroke="#000" stroke-width="2.0"/>
<line x1="436.50" y1="223.00" x2="495.70" y2="223.00" stroke="#777" stroke-width="0.9"/>
<line x1="436.50" y1="223.00" x2="436.50" y2="230.20" stroke="#777" stroke-width="0.9"/>
<line x1="495.70" y1="223.00" x2="495.70" y2="230.20" stroke="#777" stroke-width="0.9"/>
<text x="465.90" y="220.10" font-size="9.8" text-anchor="middle" fill="#141414" style="stroke-width:0.3px"><tspan font-style="italic">P</tspan> &lt; .05</text>
<text x="373.00" y="222.00" font-size="14.4" text-anchor="middle" transform="rotate(-90 373.00 222.00)" fill="#141414" style="stroke-width:0.2px">% Cells</text>
<line x1="403.60" y1="296.30" x2="403.60" y2="384.50" stroke="#1c1c1c" stroke-width="1.3"/>
<line x1="401.10" y1="296.30" x2="403.60" y2="296.30" stroke="#1c1c1c" stroke-width="1.0"/>
<text x="397.30" y="300.80" font-size="12" text-anchor="end" fill="#141414">40</text>
<line x1="401.10" y1="340.70" x2="403.60" y2="340.70" stroke="#1c1c1c" stroke-width="1.0"/>
<text x="397.30" y="345.20" font-size="12" text-anchor="end" fill="#141414">20</text>
<line x1="401.10" y1="384.50" x2="403.60" y2="384.50" stroke="#1c1c1c" stroke-width="1.0"/>
<text x="397.30" y="389.00" font-size="12" text-anchor="end" fill="#141414">0</text>
<line x1="401.50" y1="384.50" x2="518.30" y2="384.50" stroke="#1c1c1c" stroke-width="1.3"/>
<circle cx="417.50" cy="358.40" r="2.55" fill="none" stroke="#111" stroke-width="1.15"/>
<circle cx="422.00" cy="365.40" r="2.55" fill="none" stroke="#111" stroke-width="1.15"/>
<circle cx="426.20" cy="361.90" r="2.55" fill="none" stroke="#111" stroke-width="1.15"/>
<circle cx="422.70" cy="363.60" r="2.55" fill="none" stroke="#111" stroke-width="1.15"/>
<line x1="417.00" y1="362.90" x2="425.50" y2="362.90" stroke="#000" stroke-width="2.0"/>
<circle cx="435.70" cy="334.20" r="2.55" fill="none" stroke="#111" stroke-width="1.15"/>
<circle cx="435.70" cy="337.50" r="2.55" fill="none" stroke="#111" stroke-width="1.15"/>
<circle cx="435.70" cy="344.60" r="2.55" fill="none" stroke="#111" stroke-width="1.15"/>
<circle cx="435.70" cy="348.40" r="2.55" fill="none" stroke="#111" stroke-width="1.15"/>
<line x1="431.90" y1="341.30" x2="439.50" y2="341.30" stroke="#000" stroke-width="2.0"/>
<circle cx="451.30" cy="378.30" r="2.55" fill="none" stroke="#111" stroke-width="1.15"/>
<circle cx="453.50" cy="380.50" r="2.55" fill="none" stroke="#111" stroke-width="1.15"/>
<circle cx="449.50" cy="380.50" r="2.55" fill="none" stroke="#111" stroke-width="1.15"/>
<line x1="448.00" y1="379.30" x2="456.00" y2="379.30" stroke="#000" stroke-width="2.0"/>
<circle cx="476.30" cy="359.70" r="2.2" fill="#8e8e8e" stroke="#5e5e5e" stroke-width="1.0"/>
<circle cx="479.60" cy="362.60" r="2.2" fill="#8e8e8e" stroke="#5e5e5e" stroke-width="1.0"/>
<line x1="476.30" y1="360.80" x2="484.90" y2="360.80" stroke="#000" stroke-width="2.0"/>
<circle cx="490.70" cy="369.30" r="2.2" fill="#8e8e8e" stroke="#5e5e5e" stroke-width="1.0"/>
<circle cx="495.00" cy="374.10" r="2.2" fill="#8e8e8e" stroke="#5e5e5e" stroke-width="1.0"/>
<line x1="490.70" y1="371.90" x2="499.30" y2="371.90" stroke="#000" stroke-width="2.0"/>
<circle cx="511.80" cy="375.60" r="2.2" fill="#8e8e8e" stroke="#5e5e5e" stroke-width="1.0"/>
<circle cx="511.80" cy="379.90" r="2.2" fill="#8e8e8e" stroke="#5e5e5e" stroke-width="1.0"/>
<line x1="507.50" y1="377.80" x2="516.60" y2="377.80" stroke="#000" stroke-width="2.0"/>
<line x1="435.00" y1="319.00" x2="495.20" y2="319.00" stroke="#777" stroke-width="0.9"/>
<line x1="435.00" y1="319.00" x2="435.00" y2="325.90" stroke="#777" stroke-width="0.9"/>
<line x1="495.20" y1="319.00" x2="495.20" y2="325.90" stroke="#777" stroke-width="0.9"/>
<text x="466.00" y="316.50" font-size="9.8" text-anchor="middle" fill="#141414" style="stroke-width:0.3px"><tspan font-style="italic">P</tspan> &lt; .05</text>
<text x="371.5" y="337.0" font-size="14" text-anchor="middle" transform="rotate(-90 371.5 337.0)" fill="#141414" style="stroke-width:0.2px">% TO-PRO-3<tspan font-size="9" dy="-5">+</tspan></text>
<text x="426.90" y="392.50" font-size="10.8" text-anchor="end" transform="rotate(-45 426.90 392.50)" fill="#141414">aBC</text>
<text x="443.10" y="392.50" font-size="10.8" text-anchor="end" transform="rotate(-45 443.10 392.50)" fill="#141414">iPC</text>
<text x="459.20" y="392.50" font-size="10.8" text-anchor="end" transform="rotate(-45 459.20 392.50)" fill="#141414">PC</text>
<text x="485.80" y="392.50" font-size="10.8" text-anchor="end" transform="rotate(-45 485.80 392.50)" fill="#141414">aBC</text>
<text x="501.90" y="392.50" font-size="10.8" text-anchor="end" transform="rotate(-45 501.90 392.50)" fill="#141414">iPC</text>
<text x="518.10" y="392.50" font-size="10.8" text-anchor="end" transform="rotate(-45 518.10 392.50)" fill="#141414">PC</text>
<line x1="408.80" y1="409.60" x2="457.60" y2="409.60" stroke="#1c1c1c" stroke-width="1.4"/>
<line x1="468.00" y1="409.60" x2="518.50" y2="409.60" stroke="#1c1c1c" stroke-width="1.4"/>
<text x="413.00" y="424.90" font-size="11.4" font-style="italic" fill="#141414">Noxa<tspan font-size="10" font-weight="normal" dx="0.3" dy="-2.6">+/+</tspan></text>
<text x="476.00" y="424.90" font-size="11.4" font-style="italic" fill="#141414">Noxa<tspan font-size="10" font-weight="normal" dx="0.3" dy="-2.6">-/-</tspan></text>
</svg></body></html>
